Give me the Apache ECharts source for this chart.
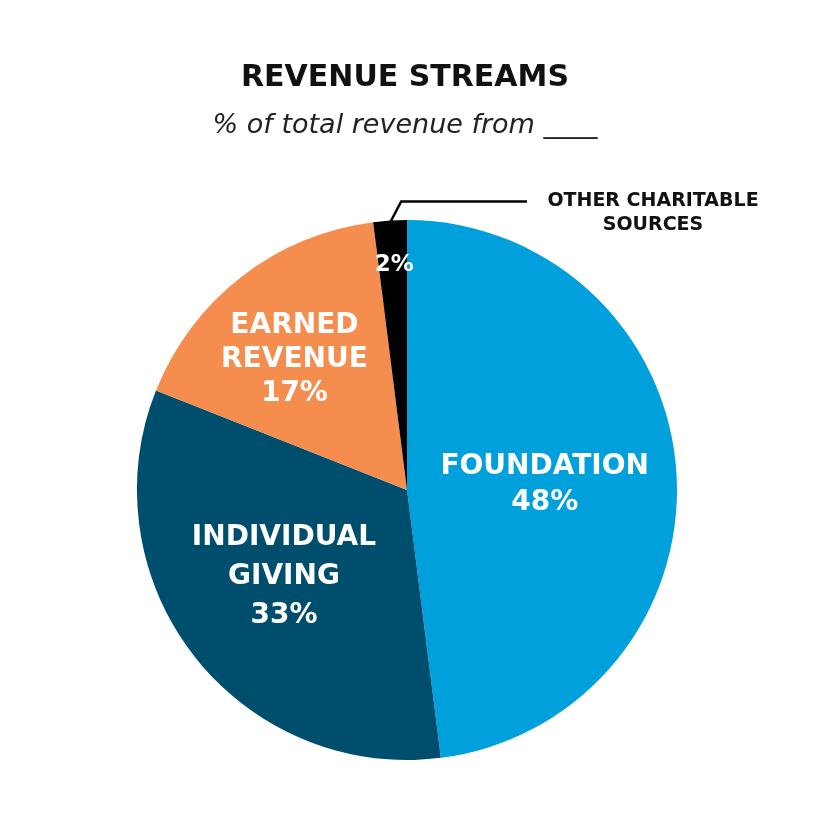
<!DOCTYPE html>
<html>
<head>
<meta charset="utf-8">
<script src="https://cdn.jsdelivr.net/npm/echarts@6/dist/echarts.min.js"></script>
<style>
  html, body { margin: 0; padding: 0; background: #fff; }
  #chart { width: 840px; height: 840px; }
</style>
</head>
<body>
<div id="chart"></div>
<script>
// data
const categories = ['FOUNDATION', 'INDIVIDUAL\nGIVING', 'EARNED\nREVENUE', 'OTHER CHARITABLE\nSOURCES'];
const shares = [48, 33, 17, 2];
const sliceColors = ['#00A0DC', '#004E6D', '#F58D4F', '#000000'];

// label nudges (px) so the inside labels sit where the original has them
const labelOffsets = [[0, 3], [-14, 2], [-28, -21], [-4, -87]];
const labelLineHeights = [36, 39, 34, 30];

const CENTER = [407, 490];
const RADIUS = 270;
const FONT = '"DejaVu Sans", sans-serif';

const dom = document.getElementById('chart');
const myChart = echarts.init(dom, null, { renderer: 'canvas' });

const pieData = categories.map(function (name, i) {
    const isSmall = i === categories.length - 1;
    return {
        name: name,
        value: shares[i],
        itemStyle: { color: sliceColors[i] },
        label: {
            offset: labelOffsets[i],
            lineHeight: labelLineHeights[i],
            fontSize: isSmall ? 23 : 28,
            formatter: isSmall ? '{c}%' : '{b}\n{c}%'
        }
    };
});

// leader line for the thin "other" slice, worked out from the data
const total = shares.reduce(function (a, b) { return a + b; }, 0);
const beforeLast = shares.slice(0, -1).reduce(function (a, b) { return a + b; }, 0);
const midFrac = (beforeLast + shares[shares.length - 1] / 2) / total;
const midAng = midFrac * Math.PI * 2; // clockwise from 12 o'clock
const p0 = [CENTER[0] + (RADIUS - 2) * Math.sin(midAng), CENTER[1] - (RADIUS - 2) * Math.cos(midAng)];
const p1 = [p0[0] + 11, p0[1] - 21];
const p2 = [527, p1[1]];

const option = {
    backgroundColor: '#ffffff',
    animation: false,
    title: {
        text: 'REVENUE STREAMS',
        subtext: '% of total revenue from ____',
        left: 400,
        top: 58,
        textAlign: 'center',
        itemGap: 19,
        textStyle: { fontFamily: FONT, fontSize: 30, fontWeight: 'bold', color: '#111' },
        subtextStyle: { fontFamily: FONT, fontSize: 27, fontStyle: 'italic', color: '#222' }
    },
    series: [{
        type: 'pie',
        center: CENTER,
        radius: RADIUS,
        startAngle: 90,
        clockwise: true,
        silent: true,
        data: pieData,
        label: {
            show: true,
            position: 'inside',
            color: '#ffffff',
            fontFamily: FONT,
            fontWeight: 'bold',
            align: 'center'
        },
        labelLine: { show: false },
        itemStyle: { borderWidth: 0 }
    }],
    graphic: [
        {
            type: 'polyline',
            shape: { points: [p0, p1, p2] },
            style: { stroke: '#000', lineWidth: 2.5, fill: null },
            z: 10
        },
        {
            type: 'text',
            x: 653,
            y: 189,
            style: {
                text: categories[categories.length - 1],
                fontFamily: FONT,
                fontWeight: 'bold',
                fontSize: 19,
                lineHeight: 24,
                fill: '#111',
                align: 'center',
                verticalAlign: 'top'
            }
        }
    ]
};

myChart.setOption(option, true);
window.addEventListener('resize', function () { myChart.resize(); });
</script>
</body>
</html>
